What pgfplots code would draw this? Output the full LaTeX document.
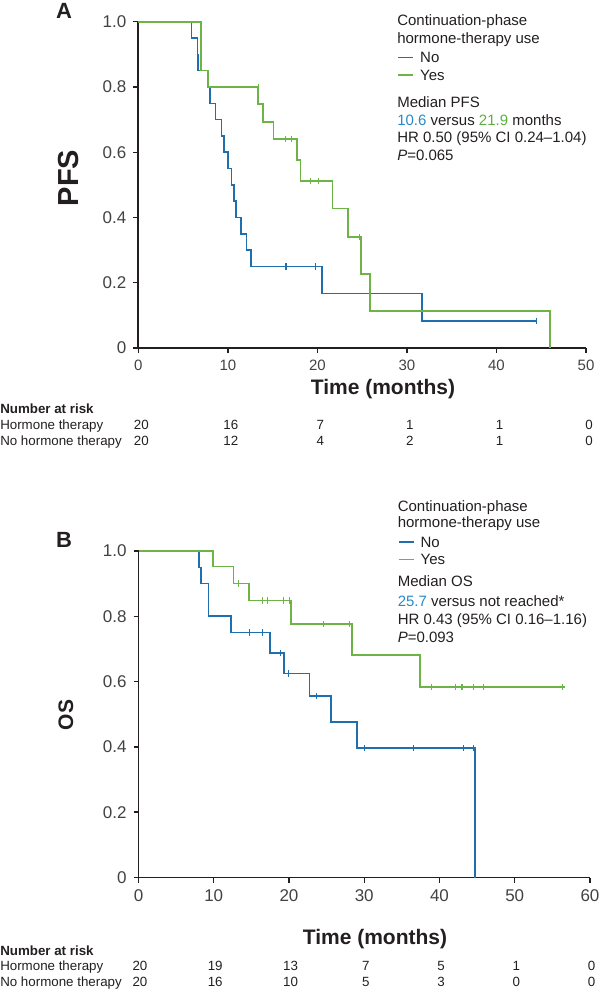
\documentclass[border=0pt]{standalone}
\usepackage{fontspec}
\setmainfont{Liberation Sans}
\usepackage{pgfplots}
\usepackage{pgfplotstable}
\pgfplotsset{compat=1.18}
\definecolor{kmblue}{HTML}{1F6FAE}
\definecolor{kmgreen}{HTML}{6DB446}
\definecolor{txtblue}{HTML}{2B88C8}
\definecolor{txtgreen}{HTML}{5DB040}
\definecolor{axisgray}{HTML}{231F20}
\newcommand{\fs}[1]{\fontsize{#1pt}{#1pt}\selectfont}

% PFS, panel A
\pgfplotstableread{
t s
0 1
5.95 0.95
6.6 0.90
6.7 0.85
7.8 0.80
8.0 0.75
8.6 0.70
9.3 0.65
9.6 0.60
10.0 0.55
10.4 0.50
10.7 0.45
10.9 0.40
11.5 0.35
12.1 0.30
12.6 0.25
20.5 0.167
31.7 0.083
44.5 0.083
}\pfsno
\pgfplotstableread{
t s
16.5 0.25
19.8 0.25
44.5 0.083
}\pfsnoc
\pgfplotstableread{
t s
0 1
7.0 0.85
7.8 0.80
13.4 0.747
13.9 0.693
15.1 0.640
17.7 0.576
18.1 0.512
21.7 0.427
23.4 0.341
24.9 0.227
25.9 0.113
46.0 0
}\pfsyes
\pgfplotstableread{
t s
13.4 0.80
16.4 0.640
17.1 0.640
19.2 0.512
20.1 0.512
24.7 0.341
}\pfsyesc

% OS, panel B
\pgfplotstableread{
t s
0 1
8.05 0.95
8.3 0.90
9.3 0.80
12.3 0.75
17.5 0.6875
19.3 0.625
22.7 0.556
25.6 0.476
29.0 0.397
44.75 0.397
44.75 0
}\osno
\pgfplotstableread{
t s
14.7 0.75
16.5 0.75
18.9 0.6875
19.9 0.625
23.7 0.556
30.0 0.397
36.5 0.397
43.2 0.397
44.5 0.397
}\osnoc
\pgfplotstableread{
t s
0 1
9.87 0.952
12.6 0.90
14.7 0.848
20.3 0.776
28.4 0.681
37.4 0.583
56.7 0.583
}\osyes
\pgfplotstableread{
t s
13.3 0.90
16.5 0.848
17.1 0.848
19.3 0.848
20.1 0.848
24.6 0.776
28.0 0.776
38.9 0.583
42.1 0.583
43.0 0.583
44.5 0.583
45.9 0.583
56.3 0.583
}\osyesc

\pgfplotsset{km/.style={
  scale only axis, anchor=south west, axis lines*=left,
  ymin=0, ymax=1, ytick={0,0.2,0.4,0.6,0.8,1},
  yticklabels={0,0.2,0.4,0.6,0.8,1.0},
  axis line style={line width=1.4pt, axisgray},
  tick style={line width=1.1pt, axisgray},
  tick align=outside, major tick length=3.75pt,
  yticklabel style={font=\fs{12.75}, inner sep=0pt, xshift=-5pt, text=axisgray!85},
  xticklabel style={inner sep=0pt, yshift=-5pt, text=axisgray!85},
  /pgf/number format/assume math mode=true,
  clip=false,
  legend cell align=left,
  legend style={anchor=north west, draw=none, fill=none, inner sep=0pt,
    row sep=0pt, column sep=4.5pt, font=\fs{11.25},
    nodes={inner sep=0pt, text height=10.5pt, text depth=2.6pt, text=axisgray}},
  legend image code/.code={\draw[#1, line width=1.2pt] (0pt,0pt) -- (11.5pt,0pt);},
  km line/.style={const plot, line width=1.2pt},
  cens/.style={only marks, mark=|, mark size=2.4pt, mark options={line width=0.9pt}, forget plot},
}}

\begin{document}
\begin{tikzpicture}
\path[use as bounding box] (0,0) rectangle (450pt,-742.5pt);

\begin{axis}[km, at={(103.725pt,-261pt)}, width=335.8pt, height=244.7pt,
  xmin=0, xmax=50, xtick={0,10,...,50}, xticklabel style={font=\fs{11.25}},
  legend style={at={(axis description cs:0.5778,0.9179)}}]
\addplot[kmblue, km line] table {\pfsno};
\addlegendentry{No}
\addplot[kmgreen, km line] table {\pfsyes};
\addlegendentry{Yes}
\addplot[kmblue, cens] table {\pfsnoc};
\addplot[kmgreen, cens] table {\pfsyesc};
\end{axis}

\begin{axis}[km, at={(103.875pt,-658.125pt)}, width=338.6pt, height=244.9pt,
  xmin=0, xmax=60, xtick={0,10,...,60}, xticklabel style={font=\fs{12.75}},
  legend style={at={(axis description cs:0.5736,1.0551)}}]
\addplot[kmblue, km line] table {\osno};
\addlegendentry{No}
\addplot[kmgreen, km line] table {\osyes};
\addlegendentry{Yes}
\addplot[kmblue, cens] table {\osnoc};
\addplot[kmgreen, cens] table {\osyesc};
\end{axis}

\begin{scope}[x=0.75pt, y=-0.75pt, every node/.style={inner sep=0pt, text=axisgray}]
% panel A texts
\node[font=\bfseries\fs{16.5}] at (64,11) {A};
\node[font=\bfseries\fs{21.75}, rotate=90] at (69,178) {PFS};
\node[font=\bfseries\fs{15.75}, anchor=base] at (383,394.5) {Time (months)};
\begin{scope}[every node/.append style={anchor=base west, font=\fs{11.25}}]
\node at (397,25.5) {Continuation-phase};
\node at (397,43) {hormone-therapy use};
\node at (397,107.5) {Median PFS};
\node at (397,125) {\textcolor{txtblue}{10.6} versus \textcolor{txtgreen}{21.9} months};
\node at (397,142.5) {HR 0.50 (95\% CI 0.24–1.04)};
\node at (397,160) {\textit{P}=0.065};
\end{scope}
\begin{scope}[every node/.append style={font=\fs{10}}]
\node[anchor=base west, font=\bfseries\fs{10}] at (0,413.8) {Number at risk};
\node[anchor=base west] at (0,429.8) {Hormone therapy};
\node[anchor=base west] at (0,445.8) {No hormone therapy};
\foreach \v [count=\i from 0] in {20,16,7,1,1,0}
  \node[anchor=base] at ({141.3+89.54*\i},429.8) {\v};
\foreach \v [count=\i from 0] in {20,12,4,2,1,0}
  \node[anchor=base] at ({141.3+89.54*\i},445.8) {\v};
\end{scope}
% panel B texts
\node[font=\bfseries\fs{16.5}] at (64,540) {B};
\node[font=\bfseries\fs{15.75}, rotate=90] at (66,715) {OS};
\node[font=\bfseries\fs{15.75}, anchor=base] at (375,944.5) {Time (months)};
\begin{scope}[every node/.append style={anchor=base west, font=\fs{11.25}}]
\node at (397.5,511) {Continuation-phase};
\node at (397.5,527.5) {hormone-therapy use};
\node at (397.5,586.5) {Median OS};
\node at (397.5,606) {\textcolor{txtblue}{25.7} versus not reached*};
\node at (397.5,624.5) {HR 0.43 (95\% CI 0.16–1.16)};
\node at (397.5,642) {\textit{P}=0.093};
\end{scope}
\begin{scope}[every node/.append style={font=\fs{10}}]
\node[anchor=base west, font=\bfseries\fs{10}] at (0,955) {Number at risk};
\node[anchor=base west] at (0,970.5) {Hormone therapy};
\node[anchor=base west] at (0,986) {No hormone therapy};
\foreach \v [count=\i from 0] in {20,19,13,7,5,1,0}
  \node[anchor=base] at ({140+75.25*\i},970.5) {\v};
\foreach \v [count=\i from 0] in {20,16,10,5,3,0,0}
  \node[anchor=base] at ({140+75.25*\i},986) {\v};
\end{scope}
\end{scope}
\end{tikzpicture}
\end{document}
